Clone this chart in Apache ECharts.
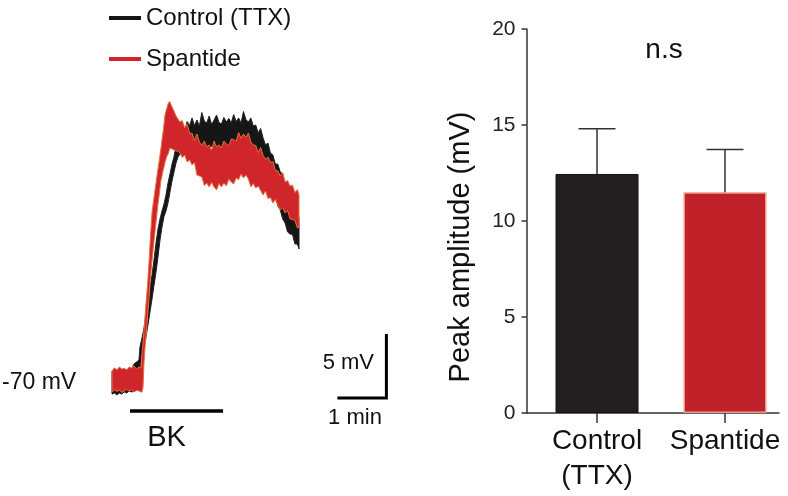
<!DOCTYPE html>
<html><head><meta charset="utf-8">
<script src="https://cdn.jsdelivr.net/npm/echarts@6/dist/echarts.min.js"></script>
<style>html,body{margin:0;padding:0;background:#fff}#c{width:788px;height:496px}</style>
</head><body><div id="c"></div>
<script>
// ---------- Left panel: membrane potential traces (time in s, depolarisation in mV above -70 mV rest) ----------
const ctrlTime = [0,3,6,9,12,15,18,21,24,27,30,33,
  34.3,36.7,39.2,41.6,44.1,46.5,49.0,51.4,53.9,56.3,58.8,61.2,63.7,66.1,68.6,71.0,73.5,75.9,78.4,80.8,83.3,
  86,89,92,95,98,101,104,107,110,113,116,119,122,125,128,131,134,137,140,143,146,149,152,155,158,161,164,167,170,173,176,179,182,185,188,191,194,197,200,203,206,209,212,215,218,221,224,227,229];
const ctrlUpper = [0.78,0.94,0.86,1.02,0.78,0.94,0.86,1.02,0.94,1.33,1.48,1.64,
  2.66,3.36,4.14,5.20,6.25,7.27,8.28,9.45,10.78,11.88,12.66,13.28,13.83,14.53,15.47,16.17,16.95,17.50,18.36,18.83,19.30,
  19.77,19.57,20.27,19.96,20.55,19.96,20.39,19.92,20.98,20.31,20.16,20.70,20.04,20.39,20.78,20.20,20.08,20.59,20.23,20.51,
  20.16,20.82,20.27,20.55,20.16,21.05,20.43,20.23,20.55,19.92,20.00,19.38,19.73,18.98,18.44,18.59,17.81,17.66,16.95,16.95,
  16.33,16.17,15.16,14.92,14.30,14.18,13.36,13.20,12.73];
const ctrlLower = [-1.02,-0.94,-1.09,-0.94,-1.02,-0.86,-0.94,-0.78,-0.86,-0.78,-0.70,-0.63,
  0.86,2.03,2.73,3.44,4.38,5.39,6.41,7.46,8.52,9.69,11.02,12.03,12.85,13.28,13.91,14.77,15.63,16.33,17.03,17.50,17.73,
  17.73,18.05,17.81,18.09,18.05,18.36,17.97,18.20,18.05,18.28,17.97,18.13,18.36,18.05,18.20,17.97,18.28,18.05,18.13,18.36,
  17.97,18.20,18.05,18.28,18.05,17.97,18.28,17.97,18.05,17.66,17.89,17.42,17.03,16.88,16.33,16.09,15.23,14.88,14.61,13.67,
  13.36,12.66,12.34,11.64,11.48,11.45,10.70,10.70,10.31];

const spanTime = [0,3,6,9,12,15,18,21,24,27,30,33,35.5,
  36.7,38.0,39.2,40.4,41.6,42.9,44.1,45.3,46.5,47.8,49.0,50.2,51.4,52.7,53.9,55.1,56.3,57.6,58.8,60.0,61.2,62.4,63.7,64.9,66.1,67.3,68.6,69.8,71.0,73.5,75.9,78.4,80.8,83.3,
  86,89,92,95,98,101,104,107,110,113,116,119,122,125,128,131,134,137,140,143,146,149,152,155,158,161,164,167,170,173,176,179,182,185,188,191,194,197,200,203,206,209,212,215,218,221,224,227,229];
const spanUpper = [0.78,1.02,0.86,1.09,0.94,0.98,0.86,1.09,1.02,1.17,0.94,1.09,1.02,
  2.11,3.05,3.98,5.00,6.02,7.03,8.05,9.22,10.63,12.03,13.13,13.75,14.30,14.92,15.47,16.02,16.56,17.11,17.66,18.20,18.83,19.38,20.08,20.78,21.09,21.33,21.64,21.80,21.80,21.41,21.09,20.70,20.47,20.23,
  20.35,19.78,20.08,19.34,19.36,18.77,19.30,18.67,18.40,18.75,18.28,18.44,18.05,18.75,18.28,18.44,18.20,18.75,18.52,18.36,
  18.91,18.87,18.71,19.41,18.95,19.30,19.02,19.38,18.67,18.44,18.40,17.85,18.24,17.62,17.30,17.50,17.07,17.15,16.45,16.41,
  16.02,16.29,15.55,15.66,15.23,15.31,14.73,14.96,14.53];
const spanLower = [-0.86,-0.70,-0.82,-0.70,-0.90,-0.78,-0.66,-0.78,-0.70,-0.86,-0.74,-0.78,-0.86,
  -0.86,-0.47,1.48,2.58,3.44,4.45,5.47,6.48,7.58,8.59,9.45,10.16,10.94,11.72,12.42,13.13,13.83,14.45,15.08,15.70,16.02,16.41,16.72,17.11,17.34,17.58,17.73,17.97,18.20,18.13,18.05,17.97,17.97,17.81,
  17.46,17.66,17.11,17.27,16.88,17.07,16.09,16.02,15.94,15.27,15.47,15.16,15.51,15.16,14.92,15.43,15.16,15.47,15.23,15.78,
  15.55,15.39,15.86,15.74,16.17,15.86,16.09,15.78,15.16,15.43,15.08,15.23,14.88,14.53,14.84,14.26,14.34,13.91,14.18,13.75,
  13.36,13.55,13.13,13.32,12.66,12.62,12.54,11.95,12.03];

const traceNames = ['Control (TTX)', 'Spantide'];
const bkTime = [22, 136];          // bradykinin application (s)
const bkLevel = -2.34;             // mV (drawing level of the bar)
const scaleBarTime = [276, 336];   // 1 min
const scaleBarMv = [-1.33, 3.67];  // 5 mV

// ---------- Right panel: peak amplitude ----------
const categories = ['Control\n(TTX)', 'Spantide'];
const peakMean = [12.45, 11.5];
const peakSem = [2.35, 2.23];

const FONT = 'Liberation Sans, Arial, Helvetica, sans-serif';
const BLACK = '#161616', RED = '#cf252b';

function band(name, time, upper, lower, fill, stroke, z) {
  return {
    type: 'custom', name, xAxisIndex: 0, yAxisIndex: 0, z, silent: true, clip: false,
    itemStyle: { color: fill },
    data: time.map((t, i) => [t, upper[i], lower[i]]),
    encode: { x: 0, y: [1, 2] },
    renderItem(params, api) {
      if (params.dataIndex !== 0) return null;
      const pts = [];
      for (let i = 0; i < time.length; i++) pts.push(api.coord([time[i], upper[i]]));
      for (let i = time.length - 1; i >= 0; i--) pts.push(api.coord([time[i], lower[i]]));
      return { type: 'polygon', shape: { points: pts }, style: { fill, stroke, lineWidth: 1, lineJoin: 'round' } };
    }
  };
}

const chart = echarts.init(document.getElementById('c'));
chart.setOption({
  animation: false,
  backgroundColor: '#fff',
  legend: {
    data: [{ name: traceNames[0], itemStyle: { color: BLACK } }, { name: traceNames[1], itemStyle: { color: RED } }],
    orient: 'vertical', left: 104, top: 1, icon: 'rect', itemWidth: 32, itemHeight: 4, itemGap: 17,
    selectedMode: false, textStyle: { fontSize: 24, color: '#111', fontFamily: FONT }
  },
  grid: [
    { left: 112, right: 382, top: 86.6, bottom: 63.8 },
    { left: 526.5, right: 9, top: 29, bottom: 83 }
  ],
  xAxis: [
    { gridIndex: 0, type: 'value', min: 0, max: 360, show: false },
    { gridIndex: 1, type: 'value', min: -0.551, max: 1.422,
      axisLine: { onZero: false, lineStyle: { color: '#333', width: 1.5 } },
      axisTick: { customValues: [0, 1], length: 10, lineStyle: { color: '#333', width: 1.5 } },
      axisLabel: { customValues: [0, 1], formatter: v => categories[Math.round(v)], fontSize: 28, lineHeight: 35,
        margin: 11, color: '#111', fontFamily: FONT },
      splitLine: { show: false } }
  ],
  yAxis: [
    { gridIndex: 0, type: 'value', min: -4, max: 23, show: false },
    { gridIndex: 1, type: 'value', min: 0, max: 20, interval: 5,
      axisLine: { show: true, onZero: false, lineStyle: { color: '#333', width: 1.5 } },
      axisTick: { show: true, length: 5, lineStyle: { color: '#333', width: 1.5 } },
      axisLabel: { fontSize: 21, margin: 11, color: '#222', fontFamily: FONT },
      splitLine: { show: false } }
  ],
  series: [
    band(traceNames[0], ctrlTime, ctrlUpper, ctrlLower, BLACK, '#222', 2),
    band(traceNames[1], spanTime, spanUpper, spanLower, RED, '#e5703f', 3),
    { type: 'custom', name: 'bars-left', xAxisIndex: 0, yAxisIndex: 0, clip: false, silent: true, z: 4,
      data: [[bkTime[0], bkLevel]],
      renderItem(params, api) {
        const a = api.coord([bkTime[0], bkLevel]), b = api.coord([bkTime[1], bkLevel]);
        const s0 = api.coord([scaleBarTime[0], scaleBarMv[0]]);
        const s1 = api.coord([scaleBarTime[1], scaleBarMv[0]]);
        const s2 = api.coord([scaleBarTime[1], scaleBarMv[1]]);
        return { type: 'group', children: [
          { type: 'line', shape: { x1: a[0], y1: a[1], x2: b[0], y2: b[1] }, style: { stroke: '#000', lineWidth: 3.5 } },
          { type: 'polyline', shape: { points: [s0, s1, s2] }, style: { stroke: '#000', lineWidth: 3, fill: null } }
        ] };
      } },
    { type: 'bar', name: 'Peak amplitude', xAxisIndex: 1, yAxisIndex: 1, barWidth: 83, silent: true,
      data: peakMean.map((v, i) => ({ value: [i, v], itemStyle: i === 0
        ? { color: '#231f20', borderColor: '#111', borderWidth: 1 }
        : { color: '#c1222a', borderColor: '#ee9a8a', borderWidth: 1.5 } })) },
    { type: 'custom', name: 'sem', xAxisIndex: 1, yAxisIndex: 1, silent: true, z: 5,
      data: peakMean.map((v, i) => [i, v, v + peakSem[i]]),
      encode: { x: 0, y: [1, 2] },
      renderItem(params, api) {
        const i = api.value(0);
        const base = api.coord([i, api.value(1)]);
        const top = api.coord([i, api.value(2)]);
        const half = 18.5;
        return { type: 'group', children: [
          { type: 'line', shape: { x1: top[0], y1: base[1], x2: top[0], y2: top[1] }, style: { stroke: '#333', lineWidth: 1.5 } },
          { type: 'line', shape: { x1: top[0] - half, y1: top[1], x2: top[0] + half, y2: top[1] }, style: { stroke: '#333', lineWidth: 1.5 } }
        ] };
      } }
  ],
  graphic: [
    { type: 'text', x: 2, y: 383, style: { text: '-70 mV', fontSize: 23, fontFamily: FONT, fill: '#111', align: 'left', verticalAlign: 'middle' } },
    { type: 'text', x: 166.5, y: 437.5, style: { text: 'BK', fontSize: 29, fontFamily: FONT, fill: '#111', align: 'center', verticalAlign: 'middle' } },
    { type: 'text', x: 374, y: 363, style: { text: '5 mV', fontSize: 22, fontFamily: FONT, fill: '#111', align: 'right', verticalAlign: 'middle' } },
    { type: 'text', x: 355, y: 418, style: { text: '1 min', fontSize: 22, fontFamily: FONT, fill: '#111', align: 'center', verticalAlign: 'middle' } },
    { type: 'text', x: 664, y: 50, style: { text: 'n.s', fontSize: 28, fontFamily: FONT, fill: '#111', align: 'center', verticalAlign: 'middle' } },
    { type: 'text', x: 461, y: 247, rotation: Math.PI / 2, style: { text: 'Peak amplitude (mV)', fontSize: 29, fontFamily: FONT, fill: '#111', align: 'center', verticalAlign: 'middle' } }
  ]
});
</script></body></html>
